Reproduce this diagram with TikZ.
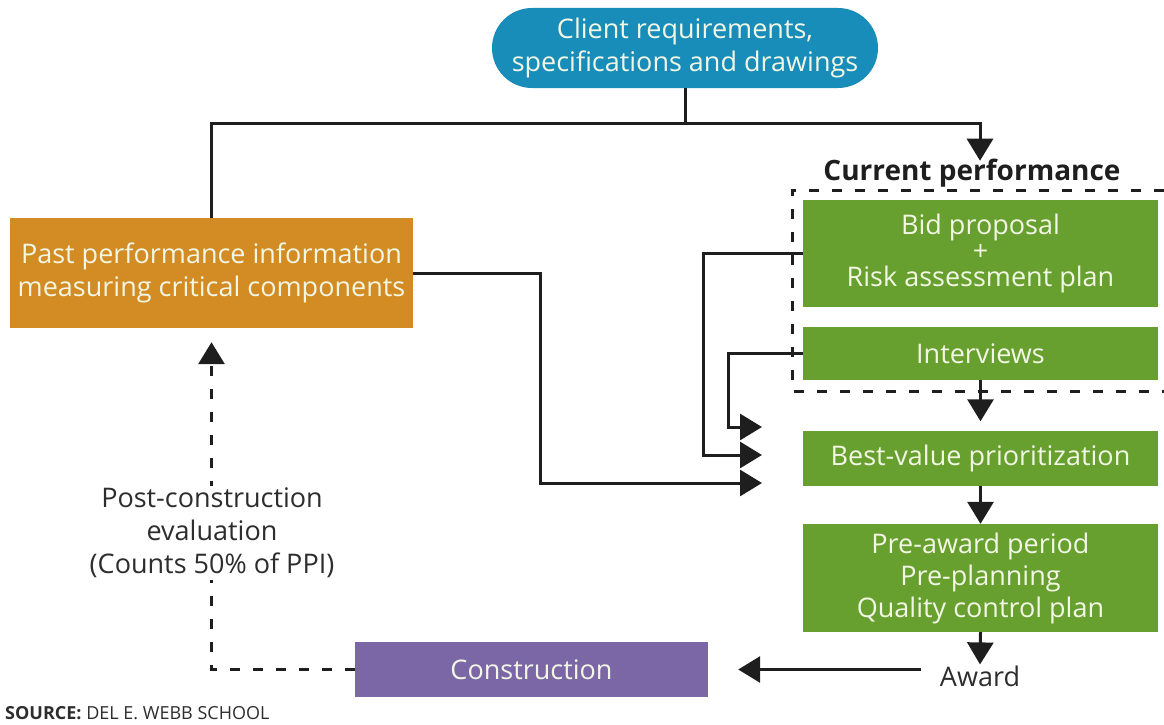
\documentclass[tikz,border=0pt]{standalone}
\usepackage{fontspec}
\setmainfont{Open Sans}
\usetikzlibrary{arrows.meta}
\definecolor{cteal}{RGB}{24,141,186}
\definecolor{corange}{RGB}{210,140,35}
\definecolor{cgreen}{RGB}{104,160,48}
\definecolor{cpurple}{RGB}{123,102,166}
\definecolor{boxtext}{RGB}{242,246,228}
\definecolor{linecol}{RGB}{30,30,30}
\definecolor{darktext}{RGB}{45,45,45}
\begin{document}
\begin{tikzpicture}[x=1pt,y=-1pt,
  box/.style={draw=none, text=boxtext, align=center, inner sep=0pt,
    font=\fontsize{27}{33}\selectfont},
  conn/.style={line width=3pt, draw=linecol},
  arr/.style={conn, -{Triangle[length=22pt,width=26pt]}},
  dconn/.style={conn, dash pattern=on 10pt off 13pt},
  label/.style={text=darktext, align=center, font=\fontsize{27}{33}\selectfont}
]
\useasboundingbox (0,0) rectangle (1164,725);
% boxes
\node[box, fill=cteal, rounded corners=40pt, minimum width=386pt, minimum height=80pt] (client) at (685,48) {Client requirements,\\specifications and drawings};
\node[box, fill=corange, minimum width=403pt, minimum height=110pt] (past) at (211.5,273) {Past performance information\\measuring critical components};
\node[box, fill=cgreen, minimum width=355pt, minimum height=107pt, font=\fontsize{27}{26}\selectfont] (bid) at (980.5,253.5) {Bid proposal\\+\\Risk assessment plan};
\node[box, fill=cgreen, minimum width=355pt, minimum height=53pt] (int) at (980.5,353.5) {Interviews};
\node[box, fill=cgreen, minimum width=355pt, minimum height=55pt] (best) at (980.5,458) {Best-value prioritization};
\node[box, fill=cgreen, minimum width=355pt, minimum height=108pt, font=\fontsize{27}{32}\selectfont] (pre) at (980.5,578) {Pre-award period\\Pre-planning\\Quality control plan};
\node[box, fill=cpurple, minimum width=353pt, minimum height=55pt] (cons) at (531.5,669.5) {Construction};
\node[label, inner sep=1pt] (award) at (980,676) {Award};
\node[text=linecol, font=\fontsize{28}{30}\selectfont\bfseries, inner sep=0pt] (cur) at (972,173) {Current performance};
% dashed frame of current performance
\draw[dconn] (1164,190) -- (792,190) -- (792,391) -- (1164,391);
% connectors
\coordinate (jr) at (980,123);
\draw[conn] (client.south) -- (client.south |- jr);
\draw[arr] (past.north) |- (jr) -- ([yshift=-2pt]jr |- cur.north);
\coordinate (in1) at (762,427);
\coordinate (in2) at (762,455);
\coordinate (in3) at (762,483);
\draw[arr] (past.east) -| (in3 -| 540,0) -- (in3);
\draw[arr] (bid.west) -| (in2 -| 703,0) -- (in2);
\draw[arr] (int.west) -| (in1 -| 728,0) -- (in1);
\draw[arr, shorten >=9pt] (int.south) -- (best.north);
\draw[arr] (best.south) -- (pre.north);
\draw[arr] (pre.south) -- (award.north);
\draw[arr, shorten <=18pt, shorten >=30pt] (award.west |- cons.east) -- (cons.east);
\draw[dconn, -{Triangle[length=22pt,width=26pt]}, shorten >=14pt] (cons.west) -| (past.south);
\node[label, fill=white, inner sep=2pt] (post) at (212,533) {Post-construction\\evaluation\\(Counts 50\% of PPI)};
\node[anchor=base west, inner sep=0pt, text=darktext, font=\fontsize{18}{20}\selectfont] (src) at (5,719) {\textbf{SOURCE:} DEL E. WEBB SCHOOL};
\end{tikzpicture}
\end{document}
